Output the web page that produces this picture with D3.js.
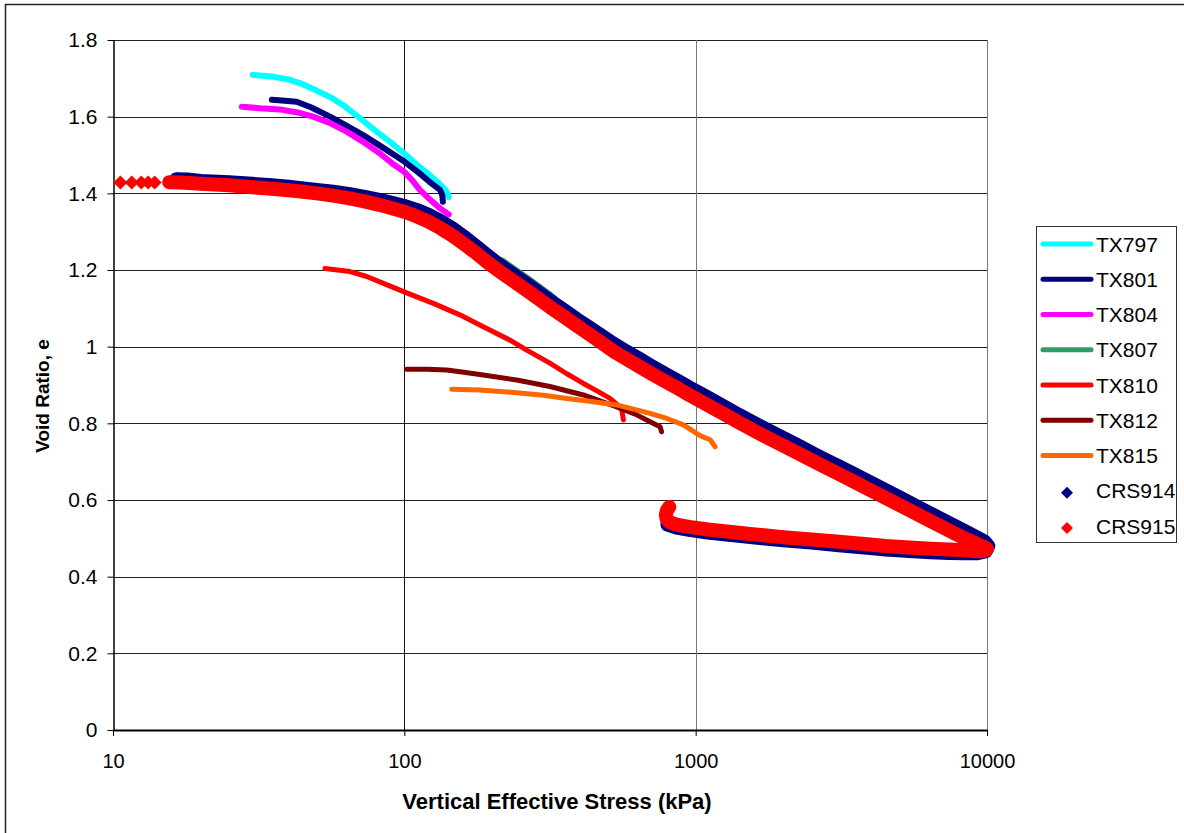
<!DOCTYPE html>
<html>
<head>
<meta charset="utf-8">
<script src="https://cdn.jsdelivr.net/npm/d3@7"></script>
<style>
body { margin: 0; background: #fff; }
svg { display: block; font-family: "Liberation Sans", Arial, sans-serif; }
</style>
</head>
<body>
<svg id="chart" width="1184" height="833"></svg>
<script>
// 各試験のデータ [有効応力 kPa, 間隙比 e]
var tx797 = [[30.2,1.709],[35,1.705],[40,1.697],[44,1.687],[50,1.668],[56,1.650],[63,1.625],[72,1.590],[80,1.562],[90,1.532],[100,1.504],[110,1.476],[122,1.448],[132,1.425],[138,1.410],[141,1.398],[142,1.390]];
var tx801 = [[35.1,1.644],[38,1.642],[42.7,1.639],[48,1.624],[55.6,1.600],[63,1.577],[72.2,1.552],[85,1.518],[100,1.483],[112,1.454],[122,1.430],[132.6,1.409],[135,1.395],[135.6,1.378]];
var tx804 = [[27.7,1.626],[32,1.622],[37.4,1.619],[43,1.611],[48.7,1.600],[56,1.582],[63.4,1.561],[72,1.535],[82.5,1.504],[92,1.475],[100,1.456],[107,1.432],[113,1.409],[122,1.385],[132,1.362],[142,1.345]];
var tx807 = [[140,1.315],[170,1.272],[200,1.236],[218,1.225],[240,1.203],[265,1.180],[292,1.157],[318,1.136],[330,1.126]];
var tx810 = [[53.4,1.204],[65.1,1.196],[74.3,1.183],[86,1.163],[100,1.143],[112,1.128],[125.8,1.113],[155,1.083],[186.6,1.052],[230.6,1.017],[263,0.991],[316,0.957],[360,0.930],[411.7,0.904],[460,0.884],[508,0.865],[540,0.848],[557.5,0.835],[565,0.809]];
var tx812 = [[101.9,0.941],[120,0.941],[139.8,0.939],[160,0.933],[186.6,0.926],[243,0.913],[316,0.896],[411.7,0.874],[535.6,0.843],[620,0.824],[697.5,0.804],[754.6,0.791],[763.8,0.778]];
var tx815 = [[145.4,0.889],[182,0.887],[243,0.880],[300,0.873],[360.9,0.865],[440,0.857],[535.6,0.848],[697.5,0.826],[800,0.812],[907.6,0.796],[1035,0.768],[1121,0.757],[1166,0.739]];

var crs914 = [[16.5,1.437],[18,1.436],[20,1.432],[25,1.429],[30,1.425],[35,1.421],[40,1.417],[45,1.413],[50,1.409],[57,1.404],[65,1.398],[73,1.391],[82,1.383],[90,1.376],[100,1.367],[110,1.357],[121,1.344],[133,1.328],[146,1.309],[160,1.287],[175,1.264],[190,1.242],[205,1.222],[218,1.207],[240,1.185],[265,1.162],[292,1.139],[322,1.116],[355,1.094],[390,1.072],[430,1.051],[475,1.029],[520,1.009],[575,0.989],[635,0.970],[700,0.951],[775,0.932],[860,0.913],[950,0.894],[1050,0.876],[1160,0.858],[1280,0.840],[1400,0.823],[1540,0.806],[1700,0.789],[1880,0.772],[2080,0.755],[2300,0.738],[2540,0.721],[2810,0.704],[3100,0.688],[3430,0.671],[3790,0.654],[4190,0.637],[4630,0.620],[5120,0.603],[5660,0.586],[6250,0.569],[6910,0.552],[7640,0.535],[8450,0.518],[9200,0.503],[9800,0.492],[10100,0.480],[9900,0.466],[9200,0.461],[8400,0.461],[7400,0.462],[6400,0.464],[5400,0.467],[4500,0.471],[3800,0.476],[3100,0.482],[2500,0.489],[2000,0.495],[1600,0.502],[1300,0.509],[1100,0.515],[950,0.522],[860,0.528],[800,0.536]];
var crs915 = [[10.6,1.428],[11.6,1.428],[12.5,1.428],[13.2,1.428],[13.9,1.428],[15.6,1.429],[17,1.428],[20,1.425],[25,1.421],[30,1.416],[35,1.412],[40,1.408],[45,1.404],[50,1.400],[57,1.394],[65,1.387],[73,1.379],[82,1.370],[90,1.362],[100,1.352],[110,1.340],[121,1.326],[133,1.309],[146,1.290],[160,1.268],[175,1.246],[190,1.224],[205,1.205],[218,1.190],[240,1.168],[265,1.145],[292,1.122],[322,1.099],[355,1.077],[390,1.055],[430,1.033],[475,1.010],[520,0.989],[575,0.969],[635,0.950],[700,0.931],[775,0.912],[860,0.893],[950,0.874],[1050,0.856],[1160,0.838],[1280,0.820],[1400,0.803],[1540,0.786],[1700,0.769],[1880,0.752],[2080,0.735],[2300,0.718],[2540,0.701],[2810,0.684],[3100,0.668],[3430,0.651],[3790,0.634],[4190,0.617],[4630,0.600],[5120,0.583],[5660,0.566],[6250,0.549],[6910,0.532],[7640,0.515],[8450,0.499],[9200,0.486],[9800,0.477],[10000,0.472],[9800,0.467],[9200,0.466],[8400,0.469],[7400,0.471],[6400,0.473],[5400,0.476],[4500,0.480],[3800,0.485],[3100,0.491],[2500,0.497],[2000,0.503],[1600,0.510],[1300,0.517],[1100,0.523],[950,0.530],[860,0.536],[815,0.542],[795,0.550],[790,0.562],[798,0.574],[812,0.582]];

var lineNames = ["TX797", "TX801", "TX804", "TX807", "TX810", "TX812", "TX815"];
var lineColors = ["#00ffff", "#000080", "#ff00ff", "#339966", "#ff0000", "#800000", "#ff6600"];
var lineData = [tx797, tx801, tx804, tx807, tx810, tx812, tx815];
var pointNames = ["CRS914", "CRS915"];
var pointColors = ["#000080", "#ff0000"];
var pointData = [crs914, crs915];

var xTicks = [10, 100, 1000, 10000];
var yTicks = [0, 0.2, 0.4, 0.6, 0.8, 1, 1.2, 1.4, 1.6, 1.8];

var svg = d3.select("#chart");

// グラフ全体の枠
svg.append("rect")
    .attr("x", 5.5).attr("y", 4.5)
    .attr("width", 1300).attr("height", 900)
    .attr("fill", "none").attr("stroke", "#222").attr("stroke-width", 1.5);

var x = d3.scaleLog().domain([10, 10000]).range([113, 987]);
var y = d3.scaleLinear().domain([0, 1.8]).range([730, 40]);

// 目盛線
svg.append("g").selectAll("line").data(yTicks.slice(1)).join("line")
    .attr("x1", 113).attr("x2", 987)
    .attr("y1", function(d){ return Math.round(y(d)) + 0.5; })
    .attr("y2", function(d){ return Math.round(y(d)) + 0.5; })
    .attr("stroke", "#222").attr("stroke-width", 1);
svg.append("g").selectAll("line").data(xTicks.slice(1)).join("line")
    .attr("x1", function(d){ return Math.round(x(d)) + 0.5; })
    .attr("x2", function(d){ return Math.round(x(d)) + 0.5; })
    .attr("y1", 40).attr("y2", 730)
    .attr("stroke", function(d){ return d === 100 ? "#111" : "#777"; }).attr("stroke-width", 1);

// 軸
var yAxis = svg.append("g")
    .attr("transform", "translate(113.5,0)")
    .call(d3.axisLeft(y).tickValues(yTicks).tickSize(6).tickSizeOuter(0).tickPadding(10)
        .tickFormat(function(d){ return String(+d.toFixed(1)); }));
var xAxis = svg.append("g")
    .attr("transform", "translate(0,730)")
    .call(d3.axisBottom(x).tickValues(xTicks).tickSize(6).tickSizeOuter(0).tickPadding(18)
        .tickFormat(d3.format("d")));
[yAxis, xAxis].forEach(function(a){
    a.selectAll("text").attr("font-size", 20).attr("fill", "#000")
        .attr("font-family", "'Liberation Sans', Arial, sans-serif");
    a.selectAll("line").attr("stroke", "#000");
    a.select(".domain").attr("stroke", "#000");
});
yAxis.selectAll("text").attr("font-size", 21);
yAxis.select(".domain").attr("stroke-width", 1.5);
xAxis.select(".domain").attr("stroke-width", 2);

// 軸ラベル
svg.append("text")
    .attr("x", 557).attr("y", 809)
    .attr("text-anchor", "middle")
    .attr("font-size", 22).attr("font-weight", "bold")
    .text("Vertical Effective Stress (kPa)");
svg.append("text")
    .attr("transform", "translate(49,396) rotate(-90)")
    .attr("text-anchor", "middle")
    .attr("font-size", 19).attr("font-weight", "bold")
    .text("Void Ratio, e");

// 折れ線
var line = d3.line()
    .x(function(d){ return x(d[0]); })
    .y(function(d){ return y(d[1]); });

lineData.forEach(function(data, i){
    svg.append("path")
        .attr("d", line(data))
        .attr("fill", "none")
        .attr("stroke", lineColors[i])
        .attr("stroke-width", i < 3 ? 6 : 5)
        .attr("stroke-linecap", "round")
        .attr("stroke-linejoin", "round");
});

// ひし形マーカー
function diamond(r){
    return "M0," + (-r) + "L" + r + ",0L0," + r + "L" + (-r) + ",0Z";
}

// CRS は点が密集して帯になるので、密な部分は太い線で埋める
var bandFrom = 15;
pointData.forEach(function(data, i){
    svg.append("path")
        .attr("d", line(data.filter(function(d){ return d[0] >= bandFrom; })))
        .attr("fill", "none")
        .attr("stroke", pointColors[i])
        .attr("stroke-width", 14)
        .attr("stroke-linecap", "round")
        .attr("stroke-linejoin", "round");
    svg.append("g").selectAll("path").data(data).join("path")
        .attr("transform", function(d){ return "translate(" + x(d[0]) + "," + y(d[1]) + ")"; })
        .attr("d", diamond(7))
        .attr("fill", pointColors[i]);
});

// 凡例
var legend = svg.append("g");
legend.append("rect")
    .attr("x", 1036.5).attr("y", 226.5).attr("width", 140).attr("height", 316)
    .attr("fill", "#fff").attr("stroke", "#333").attr("stroke-width", 1);
var names = lineNames.concat(pointNames);
names.forEach(function(name, i){
    var ly = 244 + i * 35.25;
    if (i < lineNames.length) {
        legend.append("line")
            .attr("x1", 1043).attr("x2", 1091).attr("y1", ly).attr("y2", ly)
            .attr("stroke", lineColors[i]).attr("stroke-width", 5)
            .attr("stroke-linecap", "round");
    } else {
        legend.append("path")
            .attr("transform", "translate(1067," + (ly + 2) + ")")
            .attr("d", diamond(6))
            .attr("fill", pointColors[i - lineNames.length]);
    }
    legend.append("text")
        .attr("x", 1096).attr("y", ly)
        .attr("dy", "0.36em")
        .attr("font-size", 21)
        .text(name);
});
</script>
</body>
</html>
